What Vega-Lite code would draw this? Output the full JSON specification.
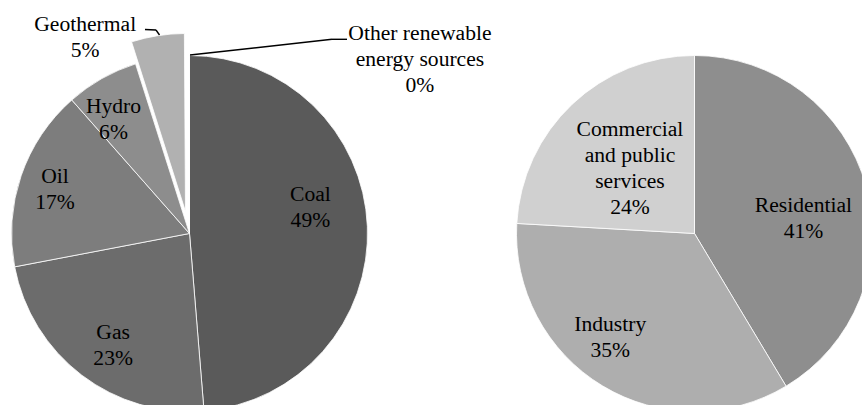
{
  "$schema": "https://vega.github.io/schema/vega-lite/v6.json",
  "width": 862,
  "height": 405,
  "autosize": {"type": "none"},
  "padding": 0,
  "background": "white",
  "config": {
    "view": {"stroke": null},
    "text": {"font": "Liberation Serif", "fontSize": 21.6, "lineHeight": 26, "color": "black", "lineBreak": "\n", "align": "center", "baseline": "middle"},
    "rule": {"color": "black", "strokeWidth": 1.4}
  },
  "datasets": {
    "pies": [
      {"chart": "Sources", "i": 1, "name": "Coal", "value": 48.7, "label": "Coal\n49%"},
      {"chart": "Sources", "i": 2, "name": "Gas", "value": 23.3, "label": "Gas\n23%"},
      {"chart": "Sources", "i": 3, "name": "Oil", "value": 16.5, "label": "Oil\n17%"},
      {"chart": "Sources", "i": 4, "name": "Hydro", "value": 6.6, "label": "Hydro\n6%"},
      {"chart": "Sources", "i": 5, "name": "Geothermal", "value": 4.8, "label": "Geothermal\n5%"},
      {"chart": "Sources", "i": 6, "name": "Other renewable energy sources", "value": 0.1, "label": "Other renewable\nenergy sources\n0%"},
      {"chart": "Sectors", "i": 1, "name": "Residential", "value": 41.4, "label": "Residential\n41%"},
      {"chart": "Sectors", "i": 2, "name": "Industry", "value": 34.5, "label": "Industry\n35%"},
      {"chart": "Sectors", "i": 3, "name": "Commercial and public services", "value": 24.1, "label": "Commercial\nand public\nservices\n24%"}
    ]
  },
  "data": {"name": "pies"},
  "resolve": {"scale": {"x": "independent", "y": "independent"}},
  "layer": [
    {
      "transform": [{"filter": "datum.chart === 'Sources'"}],
      "mark": {"type": "arc", "outerRadius": 178, "stroke": "white", "strokeWidth": 0.8, "clip": true},
      "encoding": {
        "x": {"field": "chart", "type": "nominal", "scale": {"type": "point", "domain": ["Sources", "Sectors"], "padding": 0.353465, "align": 0.530812}, "axis": null},
        "y": {"datum": "c", "type": "nominal", "scale": {"type": "point", "domain": ["c"], "padding": 0, "align": 0.576543}, "axis": null},
        "theta": {"field": "value", "type": "quantitative", "stack": true, "scale": {"domain": [0, 100]}},
        "order": {"field": "i", "type": "quantitative"},
        "color": {"field": "name", "type": "nominal", "legend": null,
          "scale": {"domain": ["Coal", "Gas", "Oil", "Hydro", "Geothermal", "Other renewable energy sources", "Residential", "Industry", "Commercial and public services"],
                    "range": ["#5a5a5a", "#6c6c6c", "#7d7d7d", "#8d8d8d", "#b1b1b1", "#ffffff", "#8e8e8e", "#aeaeae", "#d0d0d0"]}},
        "opacity": {"condition": {"test": "datum.name === 'Geothermal'", "value": 0}, "value": 1}
      }
    },
    {
      "transform": [{"filter": "datum.chart === 'Sources'"}],
      "mark": {"type": "arc", "outerRadius": 178, "stroke": "white", "strokeWidth": 0.8, "clip": true, "xOffset": -4, "yOffset": -22},
      "encoding": {
        "x": {"field": "chart", "type": "nominal", "scale": {"type": "point", "domain": ["Sources", "Sectors"], "padding": 0.353465, "align": 0.530812}, "axis": null},
        "y": {"datum": "c", "type": "nominal", "scale": {"type": "point", "domain": ["c"], "padding": 0, "align": 0.576543}, "axis": null},
        "theta": {"field": "value", "type": "quantitative", "stack": true, "scale": {"domain": [0, 100]}},
        "order": {"field": "i", "type": "quantitative"},
        "color": {"field": "name", "type": "nominal", "legend": null},
        "opacity": {"condition": {"test": "datum.name === 'Geothermal'", "value": 1}, "value": 0}
      }
    },
    {
      "transform": [{"filter": "datum.chart === 'Sectors'"}],
      "mark": {"type": "arc", "outerRadius": 178, "stroke": "white", "strokeWidth": 0.8, "clip": true},
      "encoding": {
        "x": {"field": "chart", "type": "nominal", "scale": {"type": "point", "domain": ["Sources", "Sectors"], "padding": 0.353465, "align": 0.530812}, "axis": null},
        "y": {"datum": "c", "type": "nominal", "scale": {"type": "point", "domain": ["c"], "padding": 0, "align": 0.576543}, "axis": null},
        "theta": {"field": "value", "type": "quantitative", "stack": true, "scale": {"domain": [0, 100]}},
        "order": {"field": "i", "type": "quantitative"},
        "color": {"field": "name", "type": "nominal", "legend": null}
      }
    },
    {
      "transform": [{"filter": "datum.chart === 'Sources'"}],
      "mark": {"type": "text", "radius": 120, "dx": 1, "dy": -34},
      "encoding": {
        "x": {"field": "chart", "type": "nominal", "scale": {"type": "point", "domain": ["Sources", "Sectors"], "padding": 0.353465, "align": 0.530812}, "axis": null},
        "y": {"datum": "c", "type": "nominal", "scale": {"type": "point", "domain": ["c"], "padding": 0, "align": 0.576543}, "axis": null},
        "theta": {"field": "value", "type": "quantitative", "stack": true, "scale": {"domain": [0, 100]}},
        "order": {"field": "i", "type": "quantitative"},
        "text": {"condition": {"test": "datum.name === 'Coal'", "field": "label"}, "value": ""}
      }
    },
    {
      "transform": [{"filter": "datum.chart === 'Sources'"}],
      "mark": {"type": "text", "radius": 136, "dx": 6, "dy": -9},
      "encoding": {
        "x": {"field": "chart", "type": "nominal", "scale": {"type": "point", "domain": ["Sources", "Sectors"], "padding": 0.353465, "align": 0.530812}, "axis": null},
        "y": {"datum": "c", "type": "nominal", "scale": {"type": "point", "domain": ["c"], "padding": 0, "align": 0.576543}, "axis": null},
        "theta": {"field": "value", "type": "quantitative", "stack": true, "scale": {"domain": [0, 100]}},
        "order": {"field": "i", "type": "quantitative"},
        "text": {"condition": {"test": "datum.name === 'Gas'", "field": "label"}, "value": ""}
      }
    },
    {
      "transform": [{"filter": "datum.chart === 'Sources'"}],
      "mark": {"type": "text", "radius": 140, "dx": -2, "dy": -11},
      "encoding": {
        "x": {"field": "chart", "type": "nominal", "scale": {"type": "point", "domain": ["Sources", "Sectors"], "padding": 0.353465, "align": 0.530812}, "axis": null},
        "y": {"datum": "c", "type": "nominal", "scale": {"type": "point", "domain": ["c"], "padding": 0, "align": 0.576543}, "axis": null},
        "theta": {"field": "value", "type": "quantitative", "stack": true, "scale": {"domain": [0, 100]}},
        "order": {"field": "i", "type": "quantitative"},
        "text": {"condition": {"test": "datum.name === 'Oil'", "field": "label"}, "value": ""}
      }
    },
    {
      "transform": [{"filter": "datum.chart === 'Sources'"}],
      "mark": {"type": "text", "radius": 136, "dx": -9, "dy": -8},
      "encoding": {
        "x": {"field": "chart", "type": "nominal", "scale": {"type": "point", "domain": ["Sources", "Sectors"], "padding": 0.353465, "align": 0.530812}, "axis": null},
        "y": {"datum": "c", "type": "nominal", "scale": {"type": "point", "domain": ["c"], "padding": 0, "align": 0.576543}, "axis": null},
        "theta": {"field": "value", "type": "quantitative", "stack": true, "scale": {"domain": [0, 100]}},
        "order": {"field": "i", "type": "quantitative"},
        "text": {"condition": {"test": "datum.name === 'Hydro'", "field": "label"}, "value": ""}
      }
    },
    {
      "transform": [{"filter": "datum.chart === 'Sources'"}],
      "mark": {"type": "text", "radius": 200, "dx": -73, "dy": -11},
      "encoding": {
        "x": {"field": "chart", "type": "nominal", "scale": {"type": "point", "domain": ["Sources", "Sectors"], "padding": 0.353465, "align": 0.530812}, "axis": null},
        "y": {"datum": "c", "type": "nominal", "scale": {"type": "point", "domain": ["c"], "padding": 0, "align": 0.576543}, "axis": null},
        "theta": {"field": "value", "type": "quantitative", "stack": true, "scale": {"domain": [0, 100]}},
        "order": {"field": "i", "type": "quantitative"},
        "text": {"condition": {"test": "datum.name === 'Geothermal'", "field": "label"}, "value": ""}
      }
    },
    {
      "transform": [{"filter": "datum.chart === 'Sources'"}],
      "mark": {"type": "text", "radius": 180, "dx": 231, "dy": -20},
      "encoding": {
        "x": {"field": "chart", "type": "nominal", "scale": {"type": "point", "domain": ["Sources", "Sectors"], "padding": 0.353465, "align": 0.530812}, "axis": null},
        "y": {"datum": "c", "type": "nominal", "scale": {"type": "point", "domain": ["c"], "padding": 0, "align": 0.576543}, "axis": null},
        "theta": {"field": "value", "type": "quantitative", "stack": true, "scale": {"domain": [0, 100]}},
        "order": {"field": "i", "type": "quantitative"},
        "text": {"condition": {"test": "datum.name === 'Other renewable energy sources'", "field": "label"}, "value": ""}
      }
    },
    {
      "transform": [{"filter": "datum.chart === 'Sectors'"}],
      "mark": {"type": "text", "radius": 112, "dx": 1, "dy": 2},
      "encoding": {
        "x": {"field": "chart", "type": "nominal", "scale": {"type": "point", "domain": ["Sources", "Sectors"], "padding": 0.353465, "align": 0.530812}, "axis": null},
        "y": {"datum": "c", "type": "nominal", "scale": {"type": "point", "domain": ["c"], "padding": 0, "align": 0.576543}, "axis": null},
        "theta": {"field": "value", "type": "quantitative", "stack": true, "scale": {"domain": [0, 100]}},
        "order": {"field": "i", "type": "quantitative"},
        "text": {"condition": {"test": "datum.name === 'Residential'", "field": "label"}, "value": ""}
      }
    },
    {
      "transform": [{"filter": "datum.chart === 'Sectors'"}],
      "mark": {"type": "text", "radius": 134, "dx": -15, "dy": -23},
      "encoding": {
        "x": {"field": "chart", "type": "nominal", "scale": {"type": "point", "domain": ["Sources", "Sectors"], "padding": 0.353465, "align": 0.530812}, "axis": null},
        "y": {"datum": "c", "type": "nominal", "scale": {"type": "point", "domain": ["c"], "padding": 0, "align": 0.576543}, "axis": null},
        "theta": {"field": "value", "type": "quantitative", "stack": true, "scale": {"domain": [0, 100]}},
        "order": {"field": "i", "type": "quantitative"},
        "text": {"condition": {"test": "datum.name === 'Industry'", "field": "label"}, "value": ""}
      }
    },
    {
      "transform": [{"filter": "datum.chart === 'Sectors'"}],
      "mark": {"type": "text", "radius": 91, "dx": -2, "dy": -37},
      "encoding": {
        "x": {"field": "chart", "type": "nominal", "scale": {"type": "point", "domain": ["Sources", "Sectors"], "padding": 0.353465, "align": 0.530812}, "axis": null},
        "y": {"datum": "c", "type": "nominal", "scale": {"type": "point", "domain": ["c"], "padding": 0, "align": 0.576543}, "axis": null},
        "theta": {"field": "value", "type": "quantitative", "stack": true, "scale": {"domain": [0, 100]}},
        "order": {"field": "i", "type": "quantitative"},
        "text": {"condition": {"test": "datum.name === 'Commercial and public services'", "field": "label"}, "value": ""}
      }
    },
    {
      "data": {"values": [{}]},
      "mark": {"type": "rule"},
      "encoding": {
        "x": {"datum": 190, "type": "quantitative", "scale": {"domain": [0, 862], "nice": false, "zero": false}, "axis": null},
        "x2": {"datum": 332},
        "y": {"datum": 55, "type": "quantitative", "scale": {"domain": [0, 405], "reverse": true, "nice": false, "zero": false}, "axis": null},
        "y2": {"datum": 39.3}
      }
    },
    {
      "data": {"values": [{}]},
      "mark": {"type": "rule"},
      "encoding": {
        "x": {"datum": 332, "type": "quantitative", "scale": {"domain": [0, 862], "nice": false, "zero": false}, "axis": null},
        "x2": {"datum": 347},
        "y": {"datum": 39.3, "type": "quantitative", "scale": {"domain": [0, 405], "reverse": true, "nice": false, "zero": false}, "axis": null},
        "y2": {"datum": 39.3}
      }
    },
    {
      "data": {"values": [{}]},
      "mark": {"type": "rule"},
      "encoding": {
        "x": {"datum": 145, "type": "quantitative", "scale": {"domain": [0, 862], "nice": false, "zero": false}, "axis": null},
        "x2": {"datum": 156},
        "y": {"datum": 29.5, "type": "quantitative", "scale": {"domain": [0, 405], "reverse": true, "nice": false, "zero": false}, "axis": null},
        "y2": {"datum": 30}
      }
    },
    {
      "data": {"values": [{}]},
      "mark": {"type": "rule"},
      "encoding": {
        "x": {"datum": 156, "type": "quantitative", "scale": {"domain": [0, 862], "nice": false, "zero": false}, "axis": null},
        "x2": {"datum": 159.5},
        "y": {"datum": 30, "type": "quantitative", "scale": {"domain": [0, 405], "reverse": true, "nice": false, "zero": false}, "axis": null},
        "y2": {"datum": 35}
      }
    }
  ]
}
